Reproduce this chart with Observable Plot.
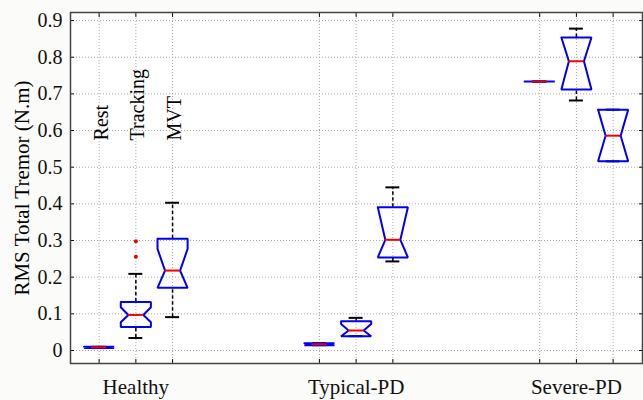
<!DOCTYPE html>
<html>
<head>
<meta charset="utf-8">
<script src="https://cdn.jsdelivr.net/npm/d3@7"></script>
<script src="https://cdn.jsdelivr.net/npm/@observablehq/plot@0.6"></script>
<style>
  html, body { margin: 0; padding: 0; background: #fbfbfa; }
  #chart svg { display: block; }
  #chart svg text { font-family: "Liberation Serif", "Times New Roman", serif; }
</style>
</head>
<body>
<div id="chart"></div>
<script>
// ---- data ----
const groups = ["Healthy", "Typical-PD", "Severe-PD"];
const groupPositions = [2, 8, 14];
const conditions = ["Rest", "Tracking", "MVT"];
const positions = [1, 2, 3, 7, 8, 9, 13, 14, 15];
const q1        = [0.0065, 0.064, 0.171, 0.0145, 0.039, 0.254, 0.7336, 0.712, 0.516];
const q3        = [0.0100, 0.132, 0.305, 0.0200, 0.080, 0.391, 0.7336, 0.854, 0.657];
const medians   = [0.0085, 0.097, 0.218, 0.0170, 0.0545, 0.302, 0.7336, 0.789, 0.586];
const notchLo   = [0.0065, 0.077, 0.171, 0.0145, 0.039, 0.254, 0.7336, 0.712, 0.516];
const notchHi   = [0.0100, 0.118, 0.277, 0.0200, 0.072, 0.391, 0.7336, 0.854, 0.657];
const whiskerLo = [0.0065, 0.034, 0.091, 0.0145, 0.039, 0.243, 0.7336, 0.682, 0.516];
const whiskerHi = [0.0100, 0.209, 0.403, 0.0200, 0.089, 0.445, 0.7336, 0.878, 0.657];
const outlierPos = [2, 2];
const outlierVal = [0.256, 0.298];
const yTicks = [0, 0.1, 0.2, 0.3, 0.4, 0.5, 0.6, 0.7, 0.8, 0.9];
const yLabel = "RMS Total Tremor (N.m)";
const labelY = 0.573; // base of rotated condition labels

// ---- derived tables ----
const boxW = 0.41, notchW = 0.205, capW = 0.19;
const boxes = positions.map((p, i) => ({p, q1: q1[i], q3: q3[i], med: medians[i],
  nlo: notchLo[i], nhi: notchHi[i], wlo: whiskerLo[i], whi: whiskerHi[i]}));
const outline = boxes.flatMap((b, i) => [
  [b.p - boxW, b.q3], [b.p + boxW, b.q3], [b.p + boxW, b.nhi], [b.p + notchW, b.med],
  [b.p + boxW, b.nlo], [b.p + boxW, b.q1], [b.p - boxW, b.q1], [b.p - boxW, b.nlo],
  [b.p - notchW, b.med], [b.p - boxW, b.nhi], [b.p - boxW, b.q3]
].map(([x, y]) => ({x, y, id: i})));
const outliers = outlierPos.map((p, i) => ({p, v: outlierVal[i]}));
const condLabels = conditions.map((c, i) => ({p: positions[i], c}));

const font = "'Liberation Serif', 'Times New Roman', serif";

const chart = Plot.plot({
  width: 643,
  height: 400,
  marginLeft: 70,
  marginRight: 1,
  marginTop: 12,
  marginBottom: 37,
  style: {fontFamily: font, fontSize: "20px", background: "transparent", color: "#111"},
  x: {domain: [0.22, 15.8]},
  y: {domain: [-0.0355, 0.922]},
  marks: [
    Plot.frame({fill: "white", stroke: "none"}),
    Plot.ruleY(yTicks, {stroke: "#aaa", strokeDasharray: "1,2", strokeWidth: 1}),
    Plot.ruleX(positions, {stroke: "#aaa", strokeDasharray: "1,2", strokeWidth: 1}),
    // whiskers
    Plot.ruleX(boxes, {x: "p", y1: "q3", y2: "whi", stroke: "black", strokeWidth: 1.5, strokeDasharray: "3.5,2.5"}),
    Plot.ruleX(boxes, {x: "p", y1: "wlo", y2: "q1", stroke: "black", strokeWidth: 1.5, strokeDasharray: "3.5,2.5"}),
    Plot.ruleY(boxes, {y: "whi", x1: d => d.p - capW, x2: d => d.p + capW, stroke: "black", strokeWidth: 2}),
    Plot.ruleY(boxes, {y: "wlo", x1: d => d.p - capW, x2: d => d.p + capW, stroke: "black", strokeWidth: 2}),
    // notched boxes
    Plot.line(outline, {x: "x", y: "y", z: "id", stroke: "#0000ee", strokeWidth: 2, strokeLinejoin: "miter"}),
    // medians
    Plot.ruleY(boxes, {y: "med", x1: d => d.p - notchW, x2: d => d.p + notchW, stroke: "#ee0000", strokeWidth: 2}),
    // outliers
    Plot.dot(outliers, {x: "p", y: "v", r: 2, fill: "#ee0000", stroke: "none"}),
    // condition labels
    Plot.text(condLabels, {x: "p", y: () => labelY, text: "c", rotate: -90, textAnchor: "start", dx: 2,
      fontSize: 20, fontFamily: font, fill: "black"}),
    // axes
    Plot.axisY({ticks: yTicks, tickFormat: d => String(+d.toFixed(1)), tickSize: 0, tickPadding: 8,
      label: null, fontSize: 20, fontFamily: font}),
    Plot.axisY({anchor: "left", ticks: yTicks, tickSize: -4, tickFormat: () => "", label: null}),
    Plot.axisY({anchor: "right", ticks: yTicks, tickSize: -4, tickFormat: () => "", label: null}),
    Plot.axisX({ticks: groupPositions, tickFormat: (d) => groups[groupPositions.indexOf(d)], tickSize: 0,
      tickPadding: 16, label: null, fontSize: 21, fontFamily: font}),
    Plot.axisX({anchor: "bottom", ticks: positions, tickSize: -4, tickFormat: () => "", label: null}),
    Plot.axisX({anchor: "top", ticks: positions, tickSize: -4, tickFormat: () => "", label: null}),
    Plot.frame({stroke: "#444", strokeWidth: 1.5}),
    Plot.text([yLabel], {frameAnchor: "left", rotate: -90, dx: -48, textAnchor: "middle",
      fontSize: 21, fontFamily: font, fill: "black"})
  ]
});
document.getElementById("chart").appendChild(chart);
</script>
</body>
</html>
